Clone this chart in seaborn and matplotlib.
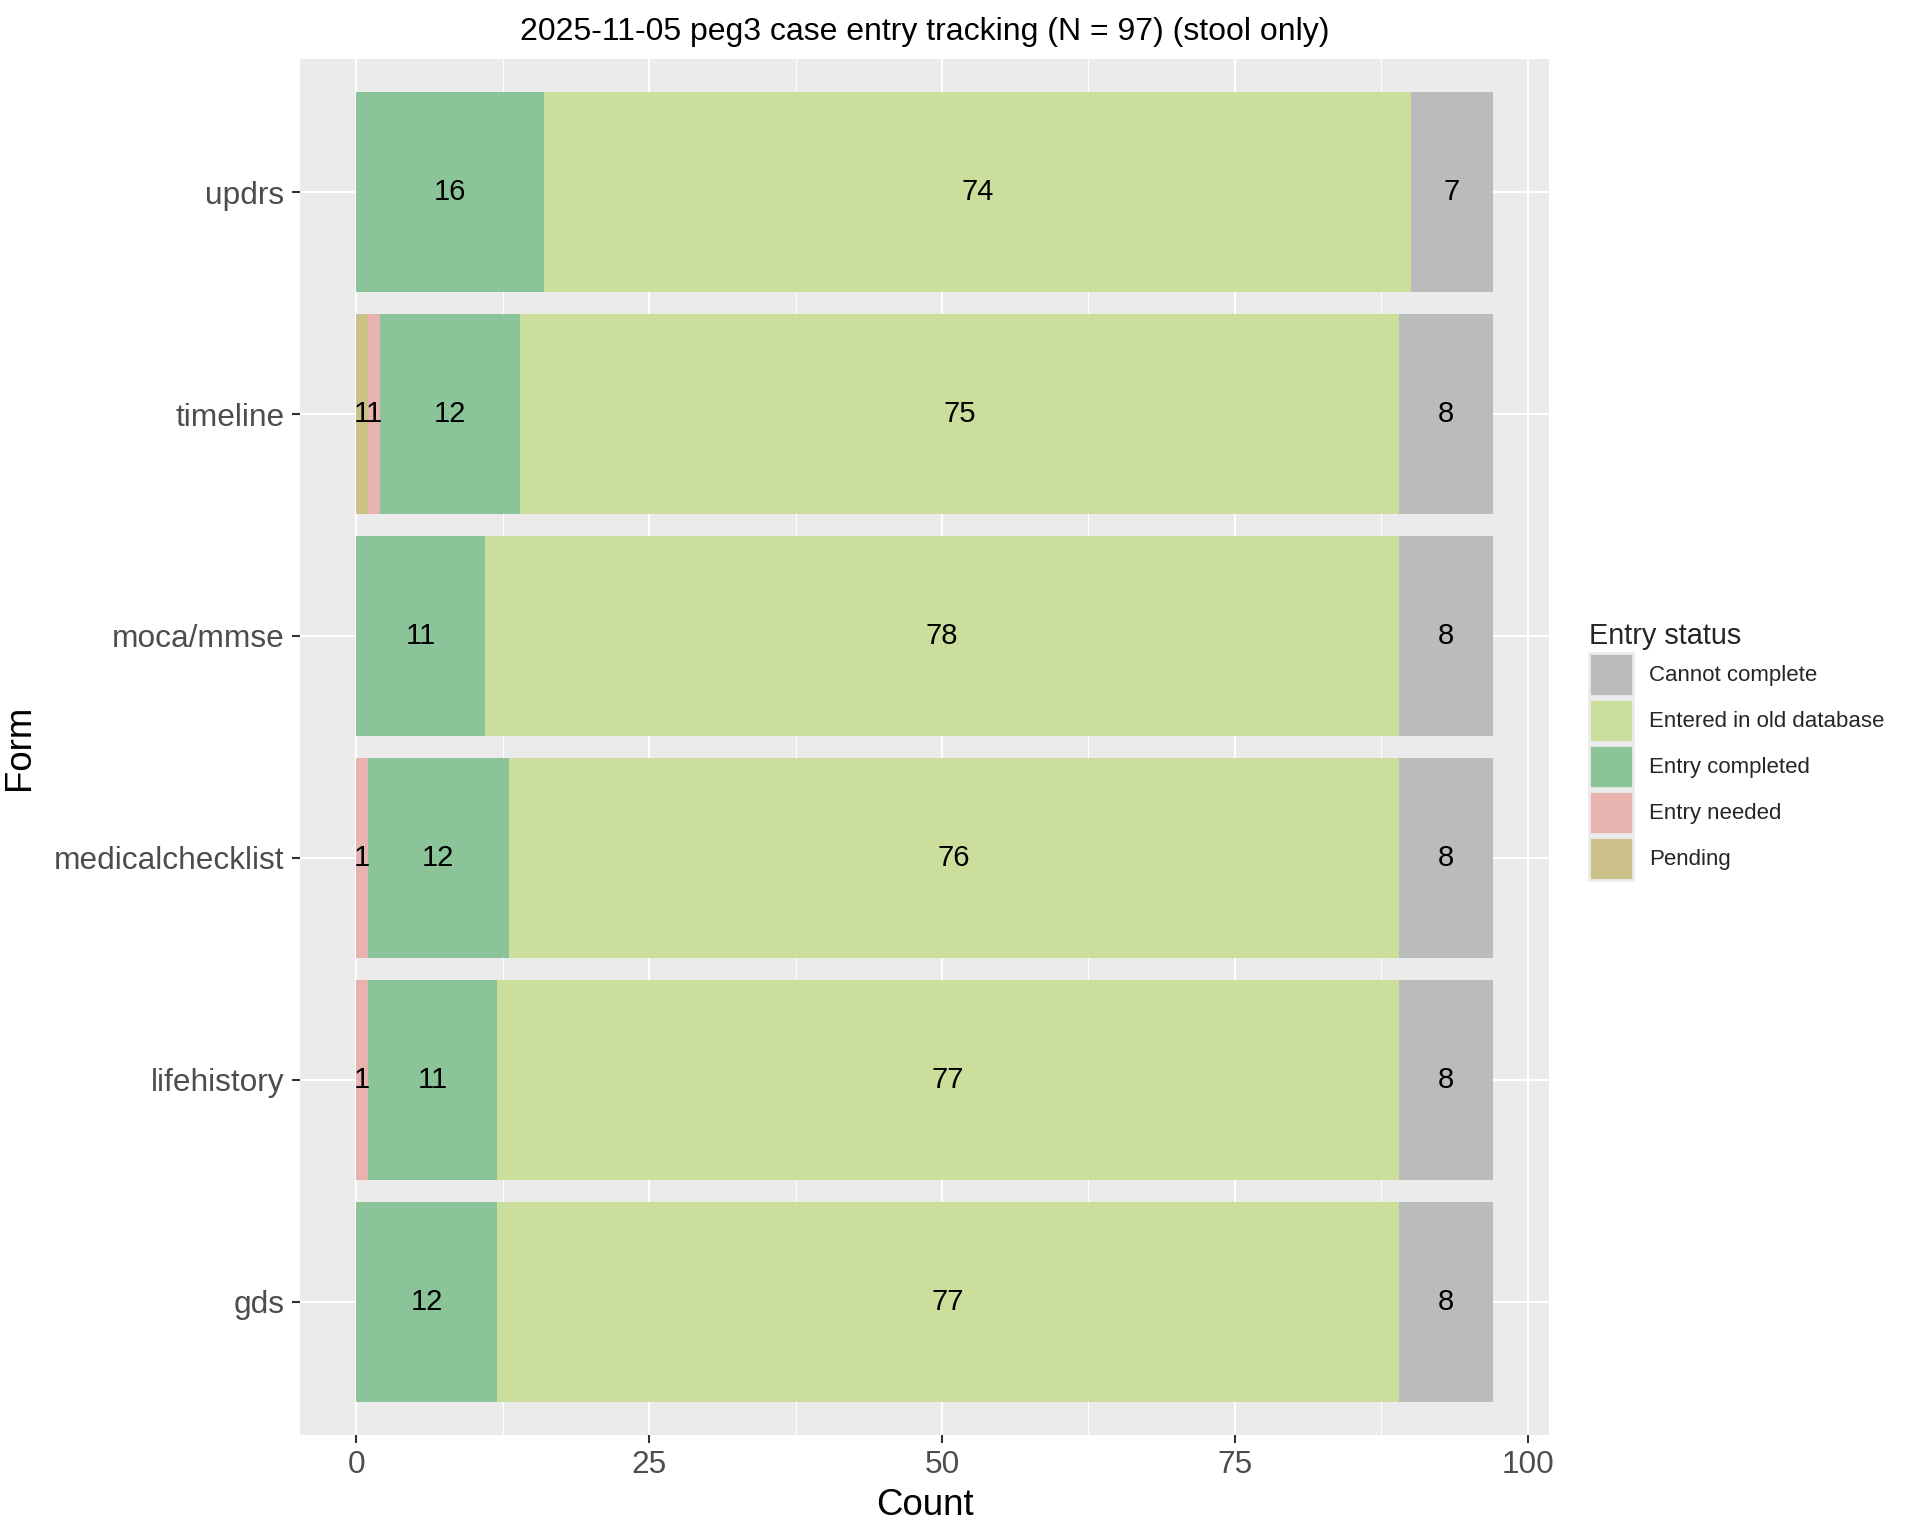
import numpy as np
import pandas as pd
import matplotlib
matplotlib.use("Agg")
import matplotlib.pyplot as plt
from matplotlib.patches import Patch
import seaborn as sns

# data
forms = ["updrs", "timeline", "moca/mmse", "medicalchecklist", "lifehistory", "gds"]
# stacking order left -> right
statuses = ["Pending", "Entry needed", "Entry completed", "Entered in old database", "Cannot complete"]
pending = [0, 1, 0, 0, 0, 0]
entry_needed = [0, 1, 0, 1, 1, 0]
entry_completed = [16, 12, 11, 12, 11, 12]
entered_old = [74, 75, 78, 76, 77, 77]
cannot_complete = [7, 8, 8, 8, 8, 8]

colors = {
    "Cannot complete": "#BBBBBB",
    "Entered in old database": "#CBDE9B",
    "Entry completed": "#8BC499",
    "Entry needed": "#E8B2AE",
    "Pending": "#CDC18A",
}
legend_order = ["Cannot complete", "Entered in old database", "Entry completed", "Entry needed", "Pending"]

df = pd.DataFrame({
    "Form": forms,
    "Pending": pending,
    "Entry needed": entry_needed,
    "Entry completed": entry_completed,
    "Entered in old database": entered_old,
    "Cannot complete": cannot_complete,
})
cum = df[statuses].cumsum(axis=1)
left = cum - df[statuses]

sns.set_theme(style="darkgrid")
plt.rcParams["font.family"] = ["Liberation Sans", "DejaVu Sans"]

fig = plt.figure(figsize=(9.6, 7.68), dpi=200)
ax = fig.add_axes([0.156, 0.0658, 0.651, 0.8958])
ax.set_facecolor("#EBEBEB")

# draw cumulative bars from widest to narrowest so they form a stack
for s in statuses[::-1]:
    sns.barplot(x=cum[s], y=df["Form"], order=forms, color=colors[s],
                width=0.9, saturation=1, orient="h", ax=ax, zorder=2,
                linewidth=0)

# count labels at segment centres
for i, f in enumerate(forms):
    for s in statuses:
        v = df.loc[i, s]
        if v > 0:
            ax.text(left.loc[i, s] + v / 2, i, str(v), ha="center", va="center",
                    fontsize=10.5, color="black", zorder=3)

ax.set_xlim(-4.85, 101.85)
ax.set_ylim(5.6, -0.6)
ax.set_xticks([0, 25, 50, 75, 100])
ax.set_xticks([12.5, 37.5, 62.5, 87.5], minor=True)
ax.grid(True, which="major", color="white", linewidth=0.75, zorder=0)
ax.grid(True, which="minor", axis="x", color="white", linewidth=0.38, zorder=0)
ax.set_axisbelow(True)
for sp in ax.spines.values():
    sp.set_visible(False)
ax.tick_params(axis="both", which="major", length=2.9, width=0.75, color="#333333",
               labelsize=11.4, labelcolor="#4D4D4D", pad=2.5, bottom=True, left=True)
ax.tick_params(axis="both", which="minor", length=0)

ax.set_xlabel("Count", fontsize=13.2, color="black", labelpad=3)
ax.set_ylabel("Form", fontsize=13.2, color="black", labelpad=6)
ax.set_title("2025-11-05 peg3 case entry tracking (N = 97) (stool only)",
             fontsize=11.5, color="black", pad=7)

handles = [Patch(facecolor=colors[s], edgecolor="#EBEBEB", linewidth=1.0, label=s)
           for s in legend_order]
leg = fig.legend(handles=handles, title="Entry status", loc="center left",
                 bbox_to_anchor=(0.822, 0.511), frameon=False, fontsize=8,
                 title_fontsize=10.4, handlelength=1.95, handleheight=2.62,
                 labelspacing=0.12, handletextpad=0.73, borderpad=0)
leg._legend_box.align = "left"

fig.savefig("out.png", dpi=200)
